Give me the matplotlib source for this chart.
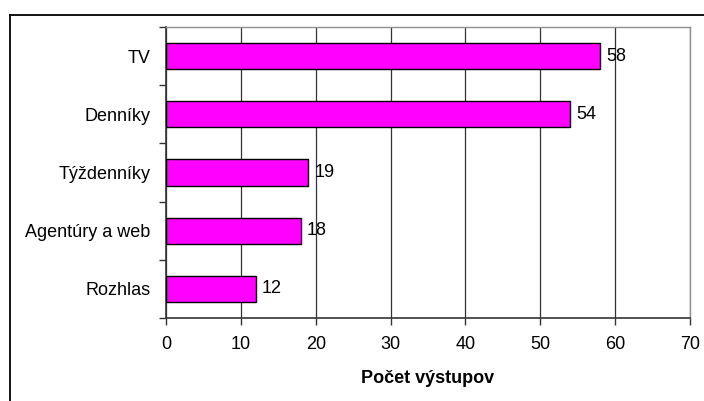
import matplotlib
matplotlib.use("Agg")
import matplotlib.pyplot as plt
from matplotlib.lines import Line2D

categories = ["TV", "Denníky", "Týždenníky", "Agentúry a web", "Rozhlas"]
values = [58, 54, 19, 18, 12]
xticks = [0, 10, 20, 30, 40, 50, 60, 70]
xlabel = "Počet výstupov"

plt.rcParams['font.family'] = ['Liberation Sans', 'DejaVu Sans']
FS = 13

fig = plt.figure(figsize=(7.04, 4.01), dpi=100)
ax = fig.add_axes([166/704, 1-318/401, (690-166)/704, (318-27)/401])

n = len(categories)
ypos = list(range(n))[::-1]
ax.barh(ypos, values, height=0.45, color='#FF00FF', edgecolor='black', linewidth=1.0, zorder=3)
for y, v in zip(ypos, values):
    ax.text(v + 0.8, y, str(v), va='center', ha='left', fontsize=FS, color='black')

ax.set_xlim(0, 70)
ax.set_ylim(-0.5, n - 0.5)
ax.set_xticks(xticks)
ax.set_xticklabels([str(t) for t in xticks], fontsize=FS)
ax.set_yticks(ypos)
ax.set_yticklabels(categories, fontsize=FS)
ax.tick_params(axis='y', length=0, pad=11)
ax.set_yticks([i - 0.5 for i in range(n + 1)], minor=True)
ax.tick_params(axis='y', which='minor', length=5, width=1, color='#333333', direction='out')
ax.tick_params(axis='x', length=5, width=1, color='#333333', direction='out', pad=8)
ax.xaxis.grid(True, color='#333333', linewidth=0.9, zorder=0)
ax.set_axisbelow(True)
ax.set_xlabel(xlabel, fontsize=FS, fontweight='bold', labelpad=12)

for s in ['top', 'right']:
    ax.spines[s].set_color('#909090')
    ax.spines[s].set_linewidth(1.0)
for s in ['left', 'bottom']:
    ax.spines[s].set_color('#333333')
    ax.spines[s].set_linewidth(1.2)

x0 = 9.5/704
y0 = 1 - 14.5/401
fig.add_artist(Line2D([x0, 1.0], [y0, y0], transform=fig.transFigure, color='black', linewidth=1.3))
fig.add_artist(Line2D([x0, x0], [0, y0], transform=fig.transFigure, color='black', linewidth=1.3))

fig.savefig("out.png", dpi=100)
